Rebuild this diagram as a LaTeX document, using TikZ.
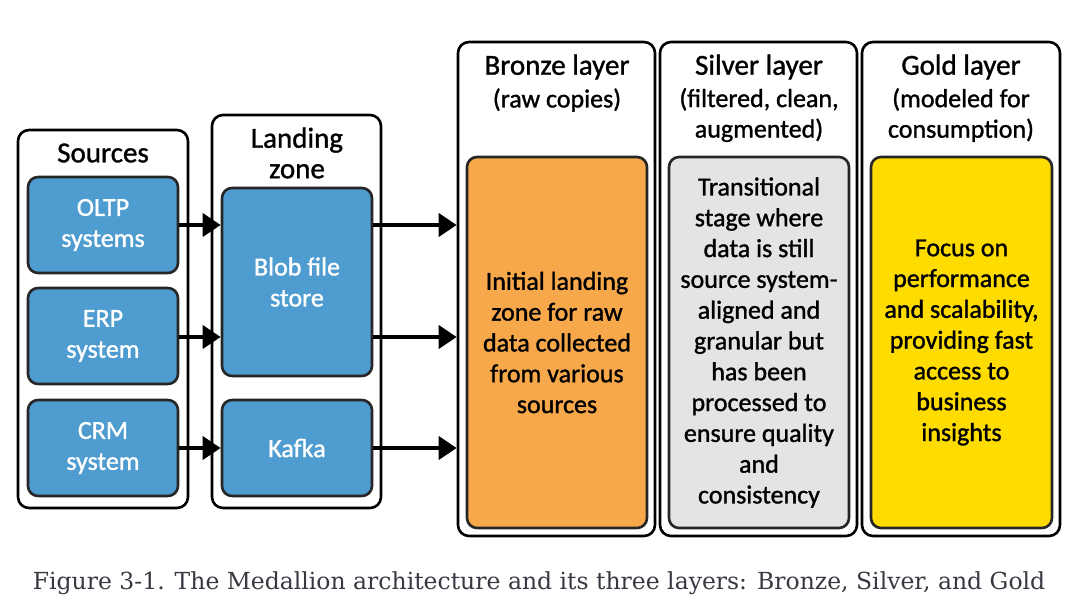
\documentclass[tikz,border=0pt]{standalone}
\usepackage{fontspec}
\setmainfont{Carlito}[FakeBold=1.2]
\newfontfamily\medfont{Carlito}[FakeBold=1.2]
\newfontfamily\capfont{DejaVu Serif}
\usetikzlibrary{arrows.meta,calc}
\definecolor{srcblue}{HTML}{4E9CD0}
\definecolor{bronzefill}{HTML}{F7A84A}
\definecolor{silverfill}{HTML}{E4E4E4}
\definecolor{goldfill}{HTML}{FFDC00}
\definecolor{capgray}{HTML}{383842}
\tikzset{
  x=1pt,y=-1pt,
  outerbox/.style={draw=black,line width=2.6pt,rounded corners=11pt,fill=white,inner sep=0pt},
  bluebox/.style={draw=black!85,line width=2.6pt,rounded corners=10pt,fill=srcblue,text=white,
    align=center,font=\medfont\fontsize{26}{31}\selectfont,inner sep=0pt,minimum width=150pt},
  layerbox/.style={draw=black!85,line width=2.6pt,rounded corners=10pt,align=center,
    font=\medfont\fontsize{26}{30.8}\selectfont,inner sep=0pt,minimum width=180pt,minimum height=371pt},
  title/.style={align=center,font=\medfont\fontsize{29}{31}\selectfont,inner sep=0pt},
  subtitle/.style={align=center,font=\medfont\fontsize{26}{30.5}\selectfont,inner sep=0pt},
  arr/.style={line width=3.6pt,-{Triangle[length=18pt,width=23pt]}},
}
\begin{document}
\begin{tikzpicture}
\useasboundingbox (0,0) rectangle (1080,614);
% outer boxes
\node[outerbox,minimum width=170pt,minimum height=378pt] (srcO) at (103,319) {};
\node[outerbox,minimum width=169pt,minimum height=393pt] (landO) at (296.5,311.5) {};
\node[outerbox,minimum width=197pt,minimum height=494pt] (bronzeO) at (556.5,289) {};
\node[outerbox,minimum width=197pt,minimum height=494pt] (silverO) at (758.5,289) {};
\node[outerbox,minimum width=198pt,minimum height=494pt] (goldO) at (961,289) {};
% titles
\node[title] (srcT) at (103,153) {Sources};
\node[title,font=\medfont\fontsize{29}{30.5}\selectfont] (landT) at (297,153) {Landing\\zone};
\node[title] (bronzeT) at (557,67) {Bronze layer};
\node[subtitle] (bronzeS) at (557,100) {(raw copies)};
\node[title] (silverT) at (759,67) {Silver layer};
\node[subtitle] (silverS) at (759,115) {(filtered, clean,\\augmented)};
\node[title] (goldT) at (961,67) {Gold layer};
\node[subtitle] (goldS) at (961,115) {(modeled for\\consumption)};
% sources
\node[bluebox,minimum height=96pt] (oltp) at (103,225) {OLTP\\systems};
\node[bluebox,minimum height=96pt] (erp) at (103,336) {ERP\\system};
\node[bluebox,minimum height=96pt] (crm) at (103,448) {CRM\\system};
% landing
\node[bluebox,minimum height=188pt] (blob) at (297,282) {Blob file\\store};
\node[bluebox,minimum height=96pt] (kafka) at (297,448) {Kafka};
% layers
\node[layerbox,fill=bronzefill] (bronze) at (557,342.5) {Initial landing\\zone for raw\\data collected\\from various\\sources};
\node[layerbox,fill=silverfill] (silver) at (759,342.5) {Transitional\\stage where\\data is still\\source system-\\aligned and\\granular but\\has been\\processed to\\ensure quality\\and\\consistency};
\node[layerbox,fill=goldfill,minimum width=181pt] (gold) at (961.5,342.5) {Focus on\\performance\\and scalability,\\providing fast\\access to\\business\\insights};
% arrows
\draw[arr] (oltp.east) -- (oltp.east -| blob.west);
\draw[arr] ($(erp.east)+(0,1)$) -- ($(erp.east -| blob.west)+(0,1)$);
\draw[arr] (crm.east) -- (kafka.west);
\draw[arr] (blob.east |- oltp.east) -- (bronzeO.west |- oltp.east);
\draw[arr] ($(blob.east |- erp.east)+(0,1)$) -- ($(bronzeO.west |- erp.east)+(0,1)$);
\draw[arr] (kafka.east) -- (bronzeO.west |- kafka.east);
% caption
\node[font=\capfont\fontsize{23.5}{28}\selectfont,text=capgray,inner sep=0pt] (cap) at (539,583) {Figure 3-1. The Medallion architecture and its three layers: Bronze, Silver, and Gold};
\end{tikzpicture}
\end{document}
